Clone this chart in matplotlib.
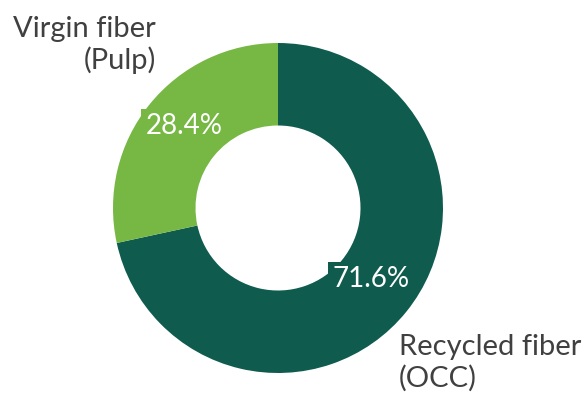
import matplotlib.pyplot as plt

categories = ['Recycled fiber\n(OCC)', 'Virgin fiber\n(Pulp)']
shares = [71.6, 28.4]
colors = ['#0f5c4f', '#76b843']

plt.rcParams['font.family'] = ['Lato', 'DejaVu Sans']

fig = plt.figure(figsize=(5.88, 4.0), dpi=100)
W, H = 588, 400
cx, cy, r = 278, 208, 165
ax = fig.add_axes([(cx - r) / W, (H - cy - r) / H, 2 * r / W, 2 * r / H])

wedges, _ = ax.pie(shares, colors=colors, startangle=90, counterclock=False,
                   radius=1.0, wedgeprops=dict(width=0.5, edgecolor='none'))
ax.set_xlim(-1, 1)
ax.set_ylim(-1, 1)
ax.set_aspect('equal')
ax.axis('off')

# percentage labels, boxed in the wedge colour
pct_pos = [(371, 279), (184, 126)]
for (px, py), v, c in zip(pct_pos, shares, colors):
    fig.text(px / W, 1 - py / H, f'{v:.1f}%', ha='center', va='center',
             fontsize=20, color='white',
             bbox=dict(boxstyle='square,pad=0.15', fc=c, ec='none'))

# category labels
fig.text(156 / W, 1 - 45 / H, categories[1], ha='right', va='center',
         fontsize=21, color='#404040', linespacing=1.2)
fig.text(399 / W, 1 - 363 / H, categories[0], ha='left', va='center',
         fontsize=21, color='#404040', linespacing=1.2)

fig.savefig('out.png', dpi=100)
